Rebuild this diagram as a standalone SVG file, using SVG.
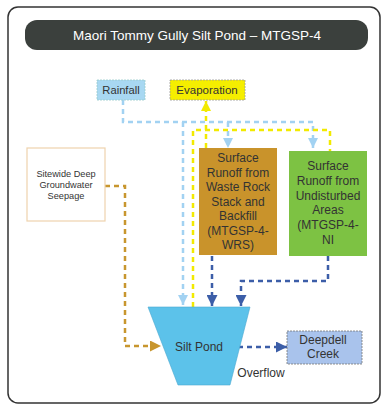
<svg xmlns="http://www.w3.org/2000/svg" width="382" height="405" viewBox="0 0 382 405">
<style>
text{font-family:"Liberation Sans",Arial,sans-serif;fill:#333;text-anchor:middle}
.ln{fill:none;stroke-width:2.5;stroke-dasharray:5 4}
.lb{stroke:#a2d2f2}.yl{stroke:#f2ea00}.db{stroke:#3c5ea8}.oc{stroke:#c8962e}
.t12{font-size:12px}
</style>
<defs>
<marker id="aLb" viewBox="0 0 10 10" refX="10" refY="5" markerWidth="10" markerHeight="10" markerUnits="userSpaceOnUse" orient="auto"><path d="M0,0 L10,5 L0,10 z" fill="#a2d2f2"/></marker>
<marker id="aYl" viewBox="0 0 10 10" refX="10" refY="5" markerWidth="10" markerHeight="10" markerUnits="userSpaceOnUse" orient="auto"><path d="M0,0 L10,5 L0,10 z" fill="#f2ea00"/></marker>
<marker id="aDb" viewBox="0 0 10 10" refX="10" refY="5" markerWidth="11" markerHeight="11" markerUnits="userSpaceOnUse" orient="auto"><path d="M0,0 L10,5 L0,10 z" fill="#3c5ea8"/></marker>
<marker id="aOc" viewBox="0 0 10 10" refX="10" refY="5" markerWidth="11" markerHeight="11" markerUnits="userSpaceOnUse" orient="auto"><path d="M0,0 L10,5 L0,10 z" fill="#c8962e"/></marker>
</defs>
<rect x="0" y="0" width="382" height="405" fill="#fff"/>
<rect x="8" y="7" width="372" height="396" rx="10" fill="none" stroke="#333" stroke-width="1.5"/>
<g id="title">
<rect x="25" y="20" width="343" height="30" rx="12" fill="#3b403d"/>
<text x="197" y="40" font-size="13.5" style="fill:#fff">Maori Tommy Gully Silt Pond – MTGSP-4</text>
</g>
<g id="connectors">
<path class="ln lb" d="M123,100 V122 H313 V148" marker-end="url(#aLb)"/>
<path class="ln lb" d="M228,122 V148" marker-end="url(#aLb)"/>
<path class="ln lb" d="M183,122 V305" marker-end="url(#aLb)"/>
<path class="ln yl" d="M193,307 V130 H330 V151"/>
<path class="ln yl" d="M206,148 V101" marker-end="url(#aYl)"/>
<path class="ln db" d="M212,256 V306" marker-end="url(#aDb)"/>
<path class="ln db" d="M328,256 V281 H241 V306" marker-end="url(#aDb)"/>
<path class="ln db" d="M238,347 H287" marker-end="url(#aDb)"/>
<path class="ln oc" d="M105,186 H125 V346 H161" marker-end="url(#aOc)"/>
</g>
<g id="rainfall">
<rect x="97" y="80" width="48" height="20" fill="#a8d8f2" stroke="#9cc" stroke-width="0.8" stroke-dasharray="2 1"/>
<text x="121" y="94" font-size="11.2">Rainfall</text>
</g>
<g id="evaporation">
<rect x="170" y="80" width="75" height="20" fill="#f5ee00" stroke="#999" stroke-width="0.8" stroke-dasharray="2 1"/>
<text x="207" y="94" font-size="11.5">Evaporation</text>
</g>
<g id="wrs">
<rect x="199" y="148" width="78" height="107" fill="#c9932b"/>
<text class="t12" x="238"><tspan x="238" y="162">Surface</tspan><tspan x="238" y="176.5">Runoff from</tspan><tspan x="238" y="191">Waste Rock</tspan><tspan x="238" y="205.5">Stack and</tspan><tspan x="238" y="220">Backfill</tspan><tspan x="238" y="234.5">(MTGSP-4-</tspan><tspan x="238" y="249">WRS)</tspan></text>
</g>
<g id="ni">
<rect x="289" y="151" width="78" height="105" fill="#7dc243"/>
<text class="t12" x="328"><tspan x="328" y="170">Surface</tspan><tspan x="328" y="185">Runoff from</tspan><tspan x="328" y="200">Undisturbed</tspan><tspan x="328" y="214">Areas</tspan><tspan x="328" y="229">(MTGSP-4-</tspan><tspan x="328" y="244">NI</tspan></text>
</g>
<g id="seepage">
<rect x="27" y="148" width="78" height="73" fill="#fff" stroke="#efd3ad" stroke-width="1.2"/>
<text x="66" font-size="9.2"><tspan x="66" y="177">Sitewide Deep</tspan><tspan x="66" y="188">Groundwater</tspan><tspan x="66" y="199">Seepage</tspan></text>
</g>
<g id="pond">
<path d="M148,307 L250,307 L230,385 L178,385 Z" fill="#5cc2ea" stroke="#4aa8d0" stroke-width="0.6"/>
<text class="t12" x="199" y="351">Silt Pond</text>
</g>
<g id="deepdell">
<rect x="287" y="331" width="75" height="33" fill="#a9c3ec" stroke="#777" stroke-width="0.8" stroke-dasharray="2 1"/>
<text class="t12"><tspan x="323" y="344">Deepdell</tspan><tspan x="323" y="358">Creek</tspan></text>
</g>
<g id="overflow-label">
<text class="t12" x="261" y="377">Overflow</text>
</g>
</svg>
